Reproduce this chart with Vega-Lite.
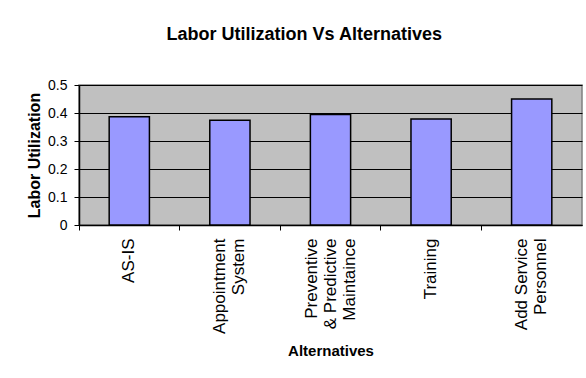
{
  "$schema": "https://vega.github.io/schema/vega-lite/v6.json",
  "width": 503,
  "height": 140,
  "autosize": {"type": "none"},
  "padding": {"left": 79, "top": 85, "right": 4, "bottom": 153},
  "background": "white",
  "title": {
    "text": "Labor Utilization Vs Alternatives",
    "font": "Liberation Sans",
    "fontSize": 18,
    "fontWeight": "bold",
    "color": "black",
    "anchor": "middle",
    "frame": "bounds",
    "offset": 34
  },
  "data": {
    "values": [
      {"alt": "AS-IS", "util": 0.387},
      {"alt": "Appointment System", "util": 0.374},
      {"alt": "Preventive & Predictive Maintaince", "util": 0.395},
      {"alt": "Training", "util": 0.379},
      {"alt": "Add Service Personnel", "util": 0.45}
    ]
  },
  "mark": {"type": "bar", "width": {"band": 0.4}, "fill": "#9999FF", "stroke": "black", "strokeWidth": 1.5},
  "encoding": {
    "x": {
      "field": "alt",
      "type": "nominal",
      "sort": null,
      "scale": {"paddingInner": 0, "paddingOuter": 0},
      "axis": {
        "title": "Alternatives",
        "titleFont": "Liberation Sans",
        "titleFontSize": 15,
        "titleFontWeight": "bold",
        "titleColor": "black",
        "titlePadding": 10,
        "labelFont": "Liberation Sans",
        "labelFontSize": 17,
        "labelColor": "black",
        "labelAngle": -90,
        "labelAlign": "right",
        "labelBaseline": "middle",
        "labelPadding": 8,
        "labelLineHeight": 19,
        "labelOffset": {"expr": "datum.value == 'Preventive & Predictive Maintaince' ? -19 : (datum.value == 'Appointment System' || datum.value == 'Add Service Personnel') ? -9.5 : 0"},
        "labelExpr": "datum.value == 'Appointment System' ? ['Appointment', 'System'] : datum.value == 'Preventive & Predictive Maintaince' ? ['Preventive', '& Predictive', 'Maintaince'] : datum.value == 'Add Service Personnel' ? ['Add Service', 'Personnel'] : datum.value",
        "bandPosition": 0,
        "tickColor": "black",
        "tickSize": 5,
        "domainColor": "black",
        "domainWidth": 1.5,
        "grid": false
      }
    },
    "y": {
      "field": "util",
      "type": "quantitative",
      "scale": {"domain": [0, 0.5], "nice": false},
      "axis": {
        "title": "Labor Utilization",
        "titleFont": "Liberation Sans",
        "titleFontSize": 16,
        "titleFontWeight": "bold",
        "titleColor": "black",
        "titlePadding": 5,
        "labelFont": "Liberation Sans",
        "labelFontSize": 14,
        "labelColor": "black",
        "labelPadding": 7,
        "format": ".1~f",
        "values": [0, 0.1, 0.2, 0.3, 0.4, 0.5],
        "tickColor": "black",
        "tickSize": 5,
        "domainColor": "black",
        "domainWidth": 1.5,
        "grid": true,
        "gridColor": "black",
        "gridWidth": 1,
        "gridOpacity": 1
      }
    }
  },
  "config": {
    "view": {"fill": "#C0C0C0", "stroke": "#808080", "strokeWidth": 1.5}
  }
}
